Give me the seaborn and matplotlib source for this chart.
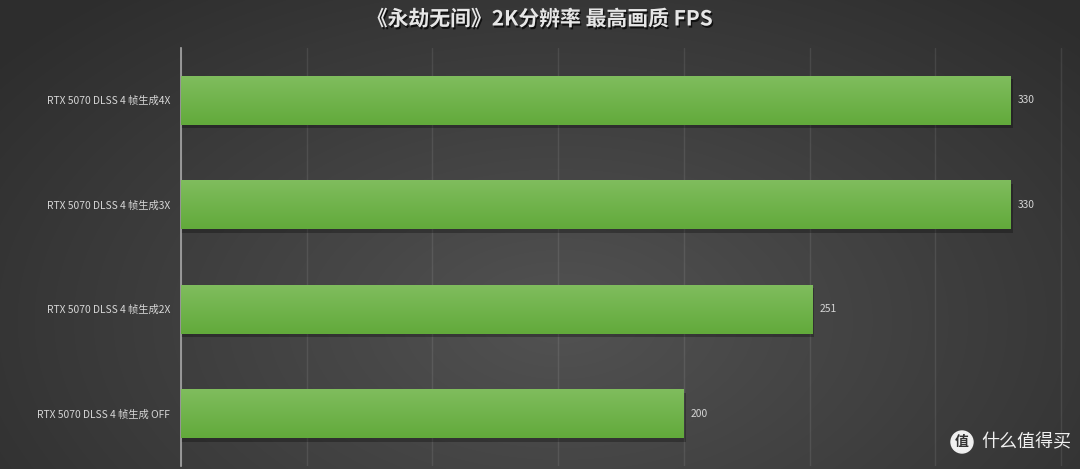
import numpy as np
import pandas as pd
import seaborn as sns
import matplotlib.pyplot as plt
import matplotlib.patheffects as pe
from matplotlib.colors import LinearSegmentedColormap
from matplotlib.patches import Rectangle, Circle

# 数据
labels = ['RTX 5070 DLSS 4 帧生成4X', 'RTX 5070 DLSS 4 帧生成3X',
          'RTX 5070 DLSS 4 帧生成2X', 'RTX 5070 DLSS 4 帧生成 OFF']
fps = [330, 330, 251, 200]
title = '《永劫无间》2K分辨率 最高画质 FPS'

df = pd.DataFrame({'setting': labels, 'fps': fps})

sns.set_theme(style='dark')
plt.rcParams['font.family'] = ['Noto Sans CJK SC', 'DejaVu Sans']

fig = plt.figure(figsize=(10.8, 4.69), dpi=100)
fig.patch.set_facecolor('#3a3a3a')

# 径向渐变背景
bg = fig.add_axes([0, 0, 1, 1], zorder=0)
yy, xx = np.mgrid[0:469, 0:1080]
r = np.sqrt(((xx - 560) / 720) ** 2 + ((yy - 320) / 430) ** 2)
bg_cmap = LinearSegmentedColormap.from_list('bg', ['#2d2d2d', '#525252'])
bg.imshow(1 - np.clip(r, 0, 1), cmap=bg_cmap, aspect='auto', interpolation='bilinear')
bg.axis('off')

ax = fig.add_axes([181 / 1080, 3 / 469, 899 / 1080, 418 / 469], zorder=1)
ax.set_facecolor('none')
sns.barplot(data=df, x='fps', y='setting', color='#6cb344', width=0.47,
            orient='h', saturation=1, ax=ax, zorder=3, linewidth=0, edgecolor='none')

# 柱子渐变 + 阴影
green = LinearSegmentedColormap.from_list('g', ['#80bd5e', '#62aa3b'])
grad = np.linspace(0, 1, 64).reshape(-1, 1)
for p in list(ax.patches):
    x0, y0, w, h = p.get_x(), p.get_y(), p.get_width(), p.get_height()
    ax.add_patch(Rectangle((x0, y0 + 0.035), w + 0.8, h, color='black',
                           alpha=0.28, zorder=2, lw=0))
    im = ax.imshow(grad, cmap=green, aspect='auto', extent=(x0, x0 + w, y0 + h, y0),
                   zorder=4, interpolation='bilinear')
    im.set_clip_path(p)

ax.set_xlim(0, 357.5)
ax.set_ylim(3.5, -0.5)
ax.set_xticks(range(0, 351, 50))
ax.set_xticklabels([])
ax.grid(axis='x', color='white', alpha=0.09, lw=1)
ax.grid(axis='y', visible=False)
for s in ['top', 'right', 'bottom']:
    ax.spines[s].set_visible(False)
ax.spines['left'].set_color('#a8a8a8')
ax.spines['left'].set_linewidth(1.2)
ax.tick_params(axis='y', length=0, pad=8, labelsize=7.4, labelcolor='#d6d6d6')
ax.tick_params(axis='x', length=0)
ax.set_xlabel('')
ax.set_ylabel('')

for i, v in enumerate(fps):
    ax.annotate(str(v), (v, i), xytext=(5, 0), textcoords='offset points',
                va='center', ha='left', fontsize=7.4, color='#d6d6d6', zorder=5)

fig.text(0.5, 1 - 19 / 469, title, ha='center', va='center', fontsize=15,
         fontweight='bold', color='#e6e6e6',
         path_effects=[pe.withSimplePatchShadow(offset=(1, -1.5), shadow_rgbFace='black', alpha=0.7)])

# 水印
wm = fig.add_axes([0, 0, 1, 1], zorder=6)
wm.axis('off')
wm.set_xlim(0, 1080)
wm.set_ylim(469, 0)
wm.add_patch(Circle((962, 442), 11, color='#f0f0f0'))
wm.text(962, 442, '值', ha='center', va='center', fontsize=10, color='#333333', fontweight='bold')
wm.text(981, 442, '什么值得买', ha='left', va='center', fontsize=13, color='#f0f0f0')

fig.savefig('out.png', dpi=100)
